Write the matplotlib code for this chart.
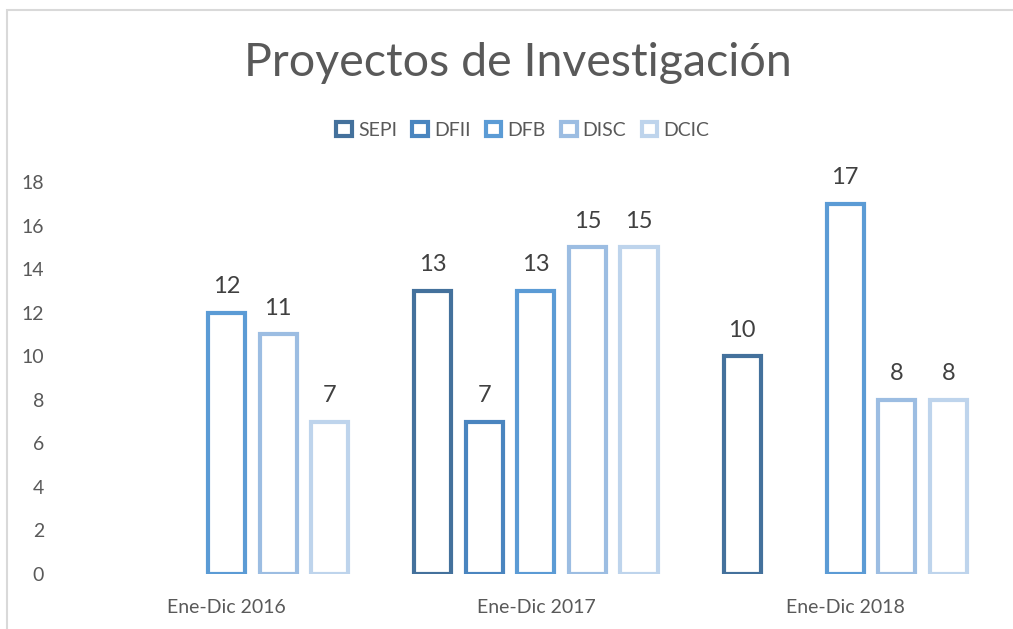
import matplotlib
matplotlib.use('Agg')
import matplotlib.pyplot as plt
from matplotlib.patches import Patch, Rectangle
import numpy as np

plt.rcParams['font.family'] = ['Lato', 'DejaVu Sans']

# datos
periodos = ['Ene-Dic 2016', 'Ene-Dic 2017', 'Ene-Dic 2018']
series = ['SEPI', 'DFII', 'DFB', 'DISC', 'DCIC']
valores = {
    'SEPI': [0, 13, 10],
    'DFII': [0, 7, 0],
    'DFB':  [12, 13, 17],
    'DISC': [11, 15, 8],
    'DCIC': [7, 15, 8],
}
colores = ['#44719C', '#4A85BF', '#5B9BD5', '#9CBDE2', '#BED4EC']

fig = plt.figure(figsize=(10.13, 6.29), dpi=100)
ax = fig.add_axes([0.071, 0.0874, 0.916, 0.6233])

x = np.arange(len(periodos))
paso = 1/6
ancho = 0.12
gris = '#595959'

for i, s in enumerate(series):
    pos = x + (i - 2) * paso
    for xi, v in zip(pos, valores[s]):
        if v == 0:
            continue
        ax.bar(xi, v, width=ancho, facecolor='white', edgecolor=colores[i], linewidth=3)
        ax.annotate(str(v), (xi, v), xytext=(0, 14), textcoords='offset points',
                    ha='center', va='baseline', fontsize=17, color='#404040')

ax.set_xlim(-0.5, 2.5)
ax.set_ylim(0, 18)
ax.set_yticks(range(0, 19, 2))
ax.set_xticks(x)
ax.set_xticklabels(periodos)
ax.tick_params(axis='y', length=0, pad=20, labelsize=14, labelcolor=gris)
ax.tick_params(axis='x', length=0, pad=18, labelsize=14, labelcolor=gris)
for sp in ax.spines.values():
    sp.set_visible(False)

fig.text(0.511, 0.9, 'Proyectos de Investigación', ha='center', va='center',
         fontsize=33.5, color=gris)

handles = [Patch(facecolor='white', edgecolor=c, linewidth=3) for c in colores]
fig.legend(handles, series, loc='center', bbox_to_anchor=(0.516, 0.793), ncol=5,
           frameon=False, fontsize=14, labelcolor=gris, handlelength=0.8,
           handleheight=0.8, handletextpad=0.3, columnspacing=0.8)

# borde del grafico
fig.patches.append(Rectangle((7/1013, -0.1), 2, 1 - 10/629 + 0.1, transform=fig.transFigure,
                             fill=False, edgecolor='#D9D9D9', linewidth=1.5))

plt.savefig('out.png', dpi=100)
